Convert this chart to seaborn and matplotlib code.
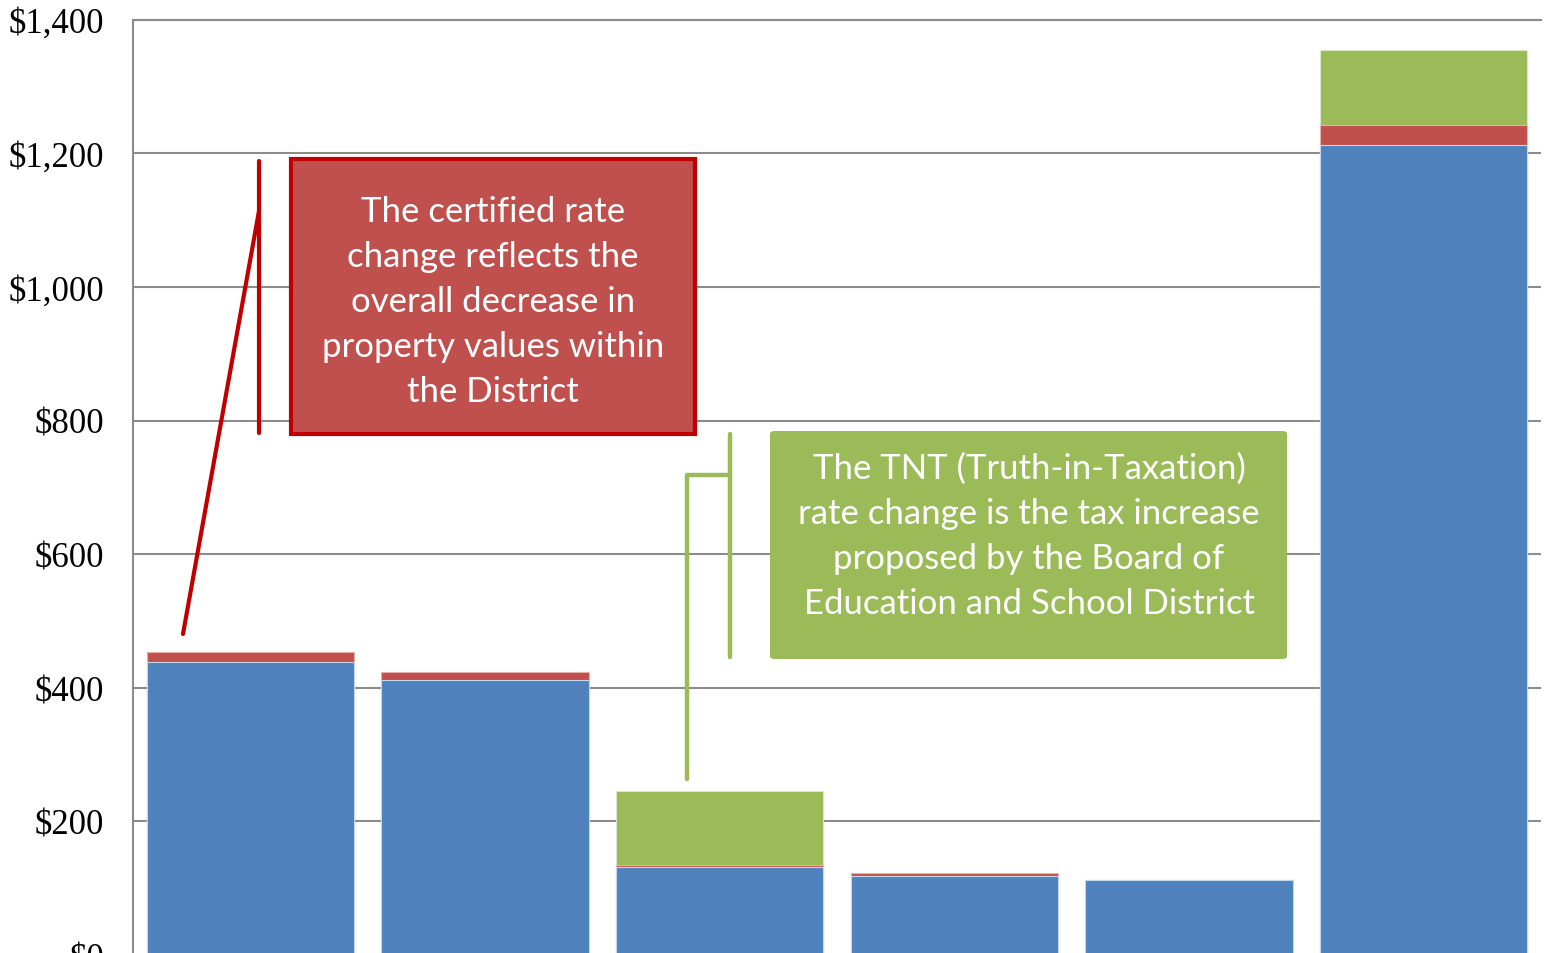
import matplotlib
matplotlib.use("Agg")
import matplotlib.pyplot as plt
import seaborn as sns
import pandas as pd
import numpy as np
from matplotlib.patches import Rectangle, FancyBboxPatch
from matplotlib.lines import Line2D

# ---- data ----
categories = ["Bar 1", "Bar 2", "Bar 3", "Bar 4", "Bar 5", "Bar 6"]
base_tax = [438, 412, 132, 118, 112, 1212]
certified_change = [16, 12, 3, 4, 0, 31]
tnt_change = [0, 0, 111, 0, 0, 111]
y_ticks = [0, 200, 400, 600, 800, 1000, 1200, 1400]
y_tick_labels = ["$0", "$200", "$400", "$600", "$800", "$1,000", "$1,200", "$1,400"]

red_note = "The certified rate\nchange reflects the\noverall decrease in\nproperty values within\nthe District"
green_note = "The TNT (Truth-in-Taxation)\nrate change is the tax increase\nproposed by the Board of\nEducation and School District"

BLUE, RED, GREEN = "#4F81BD", "#C0504D", "#9BBB59"
DARKRED = "#C00000"
GRID = "#8C8C8C"

df = pd.DataFrame({"category": categories,
                   "base": base_tax,
                   "cert": certified_change,
                   "tnt": tnt_change})
df["lvl2"] = df["base"] + df["cert"]
df["lvl3"] = df["lvl2"] + df["tnt"]

sns.set_theme(style="white")
plt.rcParams["font.family"] = ["Liberation Serif", "DejaVu Serif"]

W, H = 1544, 954
fig = plt.figure(figsize=(W / 100, H / 100), dpi=100)
ax_left, ax_right = 133 / W, 1541 / W
ax_top, ax_bot = 1 - 20.7 / H, 1 - 955.9 / H
ax = fig.add_axes([ax_left, ax_bot, ax_right - ax_left, ax_top - ax_bot])

bw = 0.883
sns.barplot(data=df, x="category", y="lvl3", color=GREEN, width=bw, ax=ax,
            edgecolor="#DDE8C8", linewidth=0.8, saturation=1, zorder=3)
sns.barplot(data=df, x="category", y="lvl2", color=RED, width=bw, ax=ax,
            edgecolor="#E6B0AE", linewidth=0.8, saturation=1, zorder=4)
sns.barplot(data=df, x="category", y="base", color=BLUE, width=bw, ax=ax,
            edgecolor="#C5D5EA", linewidth=0.8, saturation=1, zorder=5)

ax.set_xlim(-0.5, len(categories) - 0.5)
ax.set_ylim(0, 1400)
ax.set_yticks(y_ticks)
ax.set_yticklabels(y_tick_labels)
ax.tick_params(axis="y", length=0, pad=21, labelsize=25, colors="black")
ax.tick_params(axis="x", length=0, labelbottom=False)
ax.set_xlabel("")
ax.set_ylabel("")
ax.yaxis.grid(True, color=GRID, linewidth=1.5, zorder=0)
ax.set_axisbelow(True)
for s in ["right", "bottom"]:
    ax.spines[s].set_visible(False)
for s in ["left", "top"]:
    ax.spines[s].set_color(GRID)
    ax.spines[s].set_linewidth(1.5)


def fx(px):
    return px / W


def fy(py):
    return 1 - py / H


# ---- red annotation ----
fig.add_artist(Rectangle((fx(291), fy(435)), fx(695) - fx(291), fy(160) - fy(435),
                         transform=fig.transFigure, facecolor=RED, edgecolor=DARKRED,
                         linewidth=3, zorder=10))
fig.text(fx(493), fy(302), red_note, transform=fig.transFigure, ha="center", va="center",
         color="white", fontsize=25, family=["Lato", "DejaVu Sans"], linespacing=1.5, zorder=11)
fig.add_artist(Line2D([fx(259), fx(259)], [fy(162), fy(434)], transform=fig.transFigure,
                      color=DARKRED, linewidth=3, zorder=10))
fig.add_artist(Line2D([fx(259), fx(183)], [fy(212), fy(635)], transform=fig.transFigure,
                      color=DARKRED, linewidth=3, zorder=10))

# ---- green annotation ----
fig.add_artist(FancyBboxPatch((fx(770), fy(660)), fx(1287) - fx(770), fy(432) - fy(660),
                              boxstyle="round,pad=0,rounding_size=0.003",
                              transform=fig.transFigure, facecolor=GREEN, edgecolor="none",
                              zorder=10))
fig.text(fx(1029), fy(536), green_note, transform=fig.transFigure, ha="center", va="center",
         color="white", fontsize=25, family=["Lato", "DejaVu Sans"], linespacing=1.5, zorder=11)
fig.add_artist(Line2D([fx(730), fx(730)], [fy(435), fy(658)], transform=fig.transFigure,
                      color=GREEN, linewidth=3.2, zorder=10))
fig.add_artist(Line2D([fx(730), fx(687), fx(687)], [fy(476), fy(476), fy(780)],
                      transform=fig.transFigure, color=GREEN, linewidth=3.2, zorder=10))

fig.savefig("out.png", dpi=100)
